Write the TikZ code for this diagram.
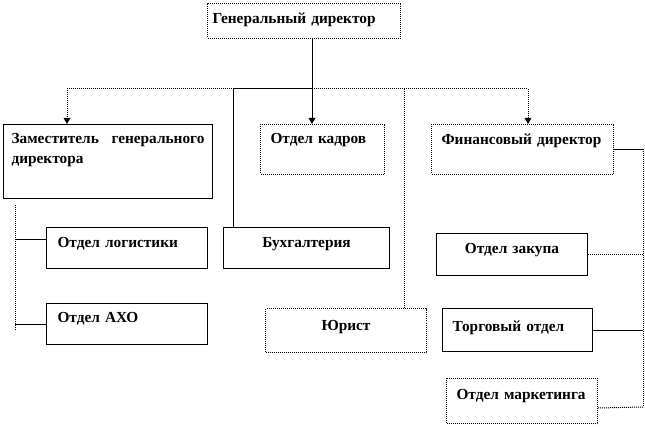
\documentclass[tikz,border=0pt]{standalone}
\usepackage{fontspec}
\setmainfont{Liberation Serif}
\usetikzlibrary{arrows.meta, calc}
\hyphenpenalty=10000

\begin{document}
\begin{tikzpicture}[x=0.75pt, y=-0.75pt,
        box/.style={draw, line width=0.75pt, anchor=north west, inner ysep=0pt, inner xsep=7.5pt,
            font=\bfseries\fontsize{11.5}{15}\selectfont},
        dots/.style={dash pattern=on 0.75pt off 0.75pt},
        dotbox/.style={box, dots},
        link/.style={line width=0.75pt},
        tip/.style={-{Triangle[width=5pt,length=4.5pt]}}]
        \useasboundingbox (0,0) rectangle (645,427);

        % top level
        \node[dotbox, inner xsep=3.75pt, text width=137.25pt, text height=15pt, text depth=11.25pt, align=left] (gen) at (207,3) {Генеральный~директор};

        % second level
        \node[box, inner xsep=6pt, text width=144.75pt, text height=14.25pt, text depth=41.25pt, align=justify] (zam) at (3,124) {Заместитель генерального директора};
        \node[dotbox, text width=78pt, text height=14.25pt, text depth=23.25pt, align=left] (kadr) at (260,124) {Отдел~кадров};
        \node[dotbox, text width=121.5pt, text height=15pt, text depth=22.5pt, align=left] (fin) at (431,124) {Финансовый~директор};

        % departments
        \node[box, inner xsep=8.25pt, text width=104.25pt, text height=15pt, text depth=15.75pt, align=left] (logist) at (46,227) {Отдел~логистики};
        \node[box, inner xsep=8.25pt, text width=104.25pt, text height=14.25pt, text depth=16.5pt, align=left] (axo) at (46,303) {Отдел~АХО};
        \node[box, text width=109.5pt, text height=15pt, text depth=15.75pt, align=center] (buh) at (223,227) {Бухгалтерия};
        \node[dotbox, text width=105.75pt, text height=16.5pt, text depth=16.5pt, align=center] (jur) at (265,308) {Юрист};
        \node[box, text width=98.25pt, text height=15pt, text depth=16.5pt, align=center] (zakup) at (436,233) {Отдел~закупа};
        \node[box, text width=97.5pt, text height=17.25pt, text depth=15pt, align=left] (torg) at (442,308) {Торговый~отдел};
        \node[dotbox, text width=98.25pt, text height=15.75pt, text depth=18pt, align=left] (market) at (446,378) {Отдел~маркетинга};

        % bar under the director
        \coordinate (hub) at (312,89);
        \coordinate (bzam) at (67,89);
        \coordinate (bbuh) at (233,89);
        \coordinate (bjur) at (404,89);
        \coordinate (bfin) at (528,89);
        \draw[link, tip] (gen.south -| hub) -- (kadr.north -| hub);
        \draw[link, dots, tip] (hub) -- (bzam) -- (bzam |- zam.north);
        \draw[link] (hub) -- (bbuh) -- (bbuh |- buh.north);
        \draw[link, dots] (hub) -- (bjur) -- (bjur |- jur.north);
        \draw[link, dots, tip] (hub) -- (bfin) -- (bfin |- fin.north);

        % left rail
        \coordinate (lrail) at (15,205);
        \coordinate (lend) at (15,330);
        \draw[link, dots] (lrail) -- (lend);
        \draw[link] (logist.north west) ++(0,13) coordinate (lj1) -- (lj1 -| lrail);
        \draw[link] (axo.north west) ++(0,21) coordinate (lj2) -- (lj2 -| lrail);

        % right rail
        \coordinate (rrail) at (643,149);
        \coordinate (rend) at (643,407);
        \draw[link] (fin.east) -- (fin.east -| rrail);
        \draw[link, dots] (rrail) -- (rend);
        \draw[link, dots] (zakup.east) -- (zakup.east -| rrail);
        \draw[link] (torg.east) -- (torg.east -| rrail);
        \draw[link, dots] (market.south east) ++(0,-16) -- (rend);
    \end{tikzpicture}
\end{document}
